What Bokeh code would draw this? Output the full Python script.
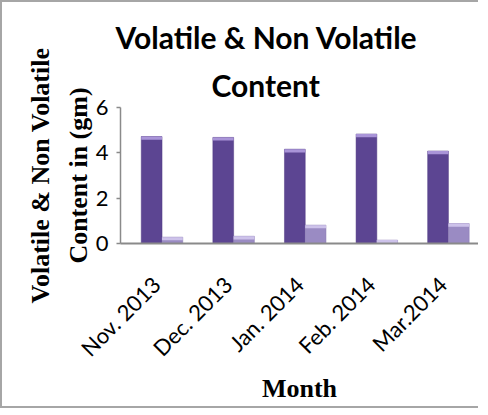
import math
from bokeh.plotting import figure
from bokeh.models import ColumnDataSource, FactorRange, Range1d, FixedTicker, Title
from bokeh.transform import dodge
from bokeh.embed import file_html
from bokeh.resources import INLINE

months = ["Nov. 2013", "Dec. 2013", "Jan. 2014", "Feb. 2014", "Mar.2014"]
volatile = [4.72, 4.68, 4.16, 4.83, 4.08]
non_volatile = [0.28, 0.32, 0.81, 0.15, 0.88]
y_ticks = [0, 2, 4, 6]

title_line1 = "Volatile & Non Volatile"
title_line2 = "Content"
ylabel_text = "Volatile & Non Volatile\nContent in (gm)"
xlabel_text = "Month"

CAP = 0.14
src = ColumnDataSource(dict(
    month=months,
    vol=volatile,
    nonvol=non_volatile,
    vol_cap=[v - CAP for v in volatile],
    nonvol_cap=[max(v - CAP, 0) for v in non_volatile],
))

p = figure(x_range=FactorRange(*months), y_range=Range1d(0, 6),
           frame_width=358, frame_height=136,
           output_backend="svg", toolbar_location=None,
           min_border_left=118, min_border_right=0, min_border_top=105,
           min_border_bottom=152, title=None)
p.styles = {"border-left": "2px solid #a6a6a6", "border-top": "2px solid #a6a6a6",
            "border-bottom": "2px solid #a6a6a6"}
p.outline_line_color = None
p.grid.visible = False

BW = 0.29
xv = dodge("month", -0.065, range=p.x_range)
xn = dodge("month", 0.225, range=p.x_range)
p.vbar(x=xv, top="vol", bottom=0, width=BW, source=src,
       fill_color="#5c4592", line_color="#4e3880", line_width=0.5)
p.vbar(x=xv, top="vol", bottom="vol_cap", width=BW, source=src,
       fill_color="#a994d8", line_color=None)
p.vbar(x=xn, top="nonvol", bottom=0, width=BW, source=src,
       fill_color="#9a8bc3", line_color="#8a7bb3", line_width=0.5)
p.vbar(x=xn, top="nonvol", bottom="nonvol_cap", width=BW, source=src,
       fill_color="#cdc2ea", line_color=None)

# title: two lines, stacked outward from the frame
def make_title(text, offset):
    return Title(text=text, align="left", offset=offset, text_font="Lato",
                 text_font_style="bold", text_font_size="30px", text_color="black")

p.add_layout(make_title(title_line2, 91), "above")
p.add_layout(make_title(title_line1, -5), "above")

# y axis
ya = p.yaxis[0]
ya.ticker = FixedTicker(ticks=y_ticks)
ya.axis_line_color = "#8a8a8a"
ya.axis_line_width = 1.5
ya.major_tick_line_color = "#8a8a8a"
ya.major_tick_line_width = 1.5
ya.major_tick_out = 4
ya.major_tick_in = 0
ya.minor_tick_line_color = None
ya.major_label_standoff = 8
ya.major_label_text_font = "Lato"
ya.major_label_text_font_size = "22px"
ya.major_label_text_color = "black"
ya.axis_label = ylabel_text
ya.axis_label_standoff = 0
ya.axis_label_text_font = "Liberation Serif"
ya.axis_label_text_font_style = "bold"
ya.axis_label_text_font_size = "26px"
ya.axis_label_text_color = "black"
ya.axis_label_text_line_height = 1.3

# x axis
xa = p.xaxis[0]
xa.axis_line_color = "#8a8a8a"
xa.axis_line_width = 2
xa.major_tick_line_color = None
xa.minor_tick_line_color = None
xa.major_label_orientation = math.pi / 4
xa.major_label_standoff = 31
xa.major_label_text_font = "Lato"
xa.major_label_text_font_size = "22px"
xa.major_label_text_color = "black"
xa.axis_label = xlabel_text
xa.axis_label_standoff = 0
xa.axis_label_text_font = "Liberation Serif"
xa.axis_label_text_font_style = "bold"
xa.axis_label_text_font_size = "26px"
xa.axis_label_text_color = "black"

open("out.html", "w").write(file_html(p, INLINE))
